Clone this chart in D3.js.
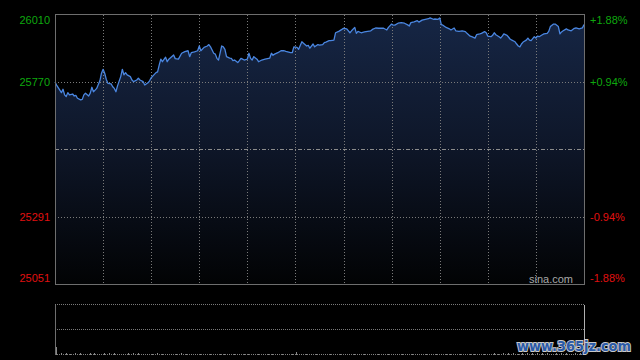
<!DOCTYPE html>
<html>
<head>
<meta charset="utf-8">
<script src="https://cdn.jsdelivr.net/npm/d3@7"></script>
<style>
  html, body { margin: 0; padding: 0; background: #000; }
  svg { display: block; }
</style>
</head>
<body>
<div id="chart"></div>
<script>
// minutes since open (HK session, 330 min) and index level
const minutes = [0,1,3,4,5,6,7,8,9,11,12,13,14,16,17,18,19,21,22,23,24,25,26,28,29,30,31,32,33,35,36,37,38,39,41,42,43,44,45,47,48,49,51,52,53,55,56,58,59,60,62,63,64,65,66,67,69,70,71,74,75,77,79,81,83,84,85,87,89,90,91,93,95,96,97,99,100,101,102,104,105,106,107,109,110,111,112,114,115,116,117,118,120,121,122,123,124,126,127,129,131,134,135,136,137,139,141,143,144,147,148,149,151,152,154,155,157,158,159,161,162,164,165,167,168,169,171,172,174,175,177,179,180,182,184,185,187,188,189,191,193,194,197,198,200,202,205,207,208,210,211,212,214,216,218,220,221,222,224,226,227,229,231,233,234,236,237,239,240,241,242,244,246,247,249,250,252,254,256,257,259,260,262,263,265,266,268,269,270,272,273,274,275,277,278,279,280,282,283,284,285,287,288,289,290,291,292,294,295,296,297,299,300,301,302,304,305,307,308,309,311,312,314,315,316,317,319,320,322,324,325,327,329,330];
const prices = [25770,25759,25741,25732,25744,25724,25718,25732,25724,25727,25720,25722,25712,25706,25708,25724,25730,25720,25730,25751,25735,25741,25747,25774,25801,25815,25801,25779,25765,25763,25753,25747,25735,25756,25789,25815,25795,25803,25795,25789,25777,25771,25777,25783,25777,25771,25759,25767,25774,25785,25797,25803,25806,25830,25851,25842,25858,25842,25851,25866,25853,25851,25872,25878,25881,25860,25874,25877,25881,25898,25881,25893,25898,25903,25895,25872,25869,25854,25848,25898,25895,25886,25860,25855,25854,25846,25848,25839,25846,25854,25851,25848,25851,25872,25854,25848,25860,25851,25842,25848,25851,25855,25872,25865,25869,25874,25881,25881,25879,25874,25874,25895,25893,25886,25913,25908,25898,25900,25890,25905,25895,25903,25901,25903,25910,25912,25917,25917,25919,25945,25950,25957,25961,25959,25945,25952,25964,25943,25950,25945,25948,25949,25952,25957,25962,25961,25961,25955,25964,25976,25972,25972,25979,25981,25979,25973,25969,25981,25984,25988,25983,25990,25993,25995,25998,25993,25994,25993,25998,25974,25972,25964,25959,25955,25962,25952,25950,25952,25949,25943,25933,25931,25926,25938,25941,25943,25949,25945,25933,25931,25936,25945,25938,25931,25926,25933,25941,25936,25929,25922,25919,25913,25905,25898,25895,25905,25912,25919,25926,25919,25917,25931,25926,25933,25931,25938,25941,25943,25950,25967,25976,25976,25967,25941,25948,25952,25959,25955,25952,25961,25962,25959,25962,25974];

// volume per 3-minute bucket (relative)
const volumes = [8,2,2,1,2,2,1,2,2,1,2,2,2,1,1,2,2,2,1,1,1,2,1,1,1,1,2,1,1,1,1,1,1,1,1,1,1,1,1,1,1,1,1,1,1,1,1,1,1,1,3,1,1,1,1,1,1,1,1,1,1,1,1,1,1,1,1,1,1,1,1,1,1,1,1,1,1,1,1,1,1,1,1,1,1,1,1,1,1,1,1,2,1,2,2,2,1,2,2,2,2,2,2,1,2,2,2,1,2,2,2];

const prevClose = 25530.5;
const priceTicks = [26010, 25770, 25291, 25051];
const timeTicks = [30, 60, 90, 120, 150, 180, 210, 240, 270, 300];

const width = 640, height = 360;
const plotL = 55, plotR = 584, plotT = 14.5, plotB = 284;
const volT = 304.5, volB = 354.5;

const svg = d3.select("#chart").append("svg")
    .attr("width", width)
    .attr("height", height)
    .style("background", "#000");

const x = d3.scaleLinear().domain([0, 330]).range([plotL, plotR]);
const y = d3.scaleLinear().domain([25051, 26010]).range([plotB, plotT]);
const yv = d3.scaleLinear().domain([0, 50]).range([volB, volT]);

const grad = svg.append("defs").append("linearGradient")
    .attr("id", "fill")
    .attr("gradientUnits", "userSpaceOnUse")
    .attr("x1", 0).attr("y1", plotT).attr("x2", 0).attr("y2", plotB);
grad.append("stop").attr("offset", 0).attr("stop-color", "#162645");
grad.append("stop").attr("offset", 0.5).attr("stop-color", "#0e1628");
grad.append("stop").attr("offset", 1).attr("stop-color", "#020304");

const data = minutes.map((m, i) => ({ m: m, p: prices[i] }));

// area under the price line
svg.append("path")
    .datum(data)
    .attr("fill", "url(#fill)")
    .attr("d", d3.area().x(d => x(d.m)).y0(plotB).y1(d => y(d.p)));

// grid
const grid = svg.append("g").attr("shape-rendering", "crispEdges");
grid.selectAll(".vg").data(timeTicks).join("line")
    .attr("x1", d => Math.round(x(d)) + 0.5).attr("x2", d => Math.round(x(d)) + 0.5)
    .attr("y1", plotT).attr("y2", plotB)
    .attr("stroke", "#7a7a7a").attr("stroke-dasharray", "1,2");
grid.selectAll(".hg").data([25770, 25291]).join("line")
    .attr("x1", plotL).attr("x2", plotR)
    .attr("y1", d => Math.round(y(d)) + 0.5).attr("y2", d => Math.round(y(d)) + 0.5)
    .attr("stroke", "#7a7a7a").attr("stroke-dasharray", "1,2");
grid.append("line")
    .attr("x1", plotL).attr("x2", plotR)
    .attr("y1", Math.round(y(prevClose)) + 0.5).attr("y2", Math.round(y(prevClose)) + 0.5)
    .attr("stroke", "#8c8c8c").attr("stroke-dasharray", "4,2,1,2");

// price line
svg.append("path")
    .datum(data)
    .attr("fill", "none")
    .attr("stroke", "#4a86e0")
    .attr("stroke-width", 1.3)
    .attr("stroke-linejoin", "round")
    .attr("d", d3.line().x(d => x(d.m)).y(d => y(d.p)));

// frame
svg.append("rect")
    .attr("x", plotL).attr("y", plotT)
    .attr("width", plotR - plotL).attr("height", plotB - plotT)
    .attr("fill", "none").attr("stroke", "#6e6e6e").attr("shape-rendering", "crispEdges");

// labels
const labelY = v => Math.max(20, Math.min(278.5, y(v)));
const colorOf = v => v > prevClose ? "#0ea80e" : "#e01010";
svg.selectAll(".ll").data(priceTicks).join("text")
    .attr("x", 50).attr("y", labelY)
    .attr("dy", "0.36em")
    .attr("text-anchor", "end")
    .attr("font-family", "Arial, 'Liberation Sans', sans-serif")
    .attr("font-size", 11)
    .attr("fill", colorOf)
    .text(d => d);
svg.selectAll(".rl").data(priceTicks).join("text")
    .attr("x", 590).attr("y", labelY)
    .attr("dy", "0.36em")
    .attr("font-family", "Arial, 'Liberation Sans', sans-serif")
    .attr("font-size", 11)
    .attr("fill", colorOf)
    .text(d => {
        const pct = (d - prevClose) / prevClose * 100;
        return (pct > 0 ? "+" : "") + pct.toFixed(2) + "%";
    });

svg.append("text")
    .attr("x", 573).attr("y", 279).attr("dy", "0.36em")
    .attr("text-anchor", "end")
    .attr("font-family", "Arial, 'Liberation Sans', sans-serif")
    .attr("font-size", 11)
    .attr("fill", "#a8a8a8")
    .text("sina.com");

// volume panel
const vg = svg.append("g").attr("shape-rendering", "crispEdges");
vg.selectAll(".vh").data([50, 25, 0]).join("line")
    .attr("x1", plotL).attr("x2", plotR)
    .attr("y1", d => yv(d)).attr("y2", d => yv(d))
    .attr("stroke", "#7a7a7a").attr("stroke-dasharray", "1,1");
vg.append("line")
    .attr("x1", plotL + 0.5).attr("x2", plotL + 0.5).attr("y1", volT).attr("y2", volB)
    .attr("stroke", "#6e6e6e");
vg.append("line")
    .attr("x1", plotR + 0.5).attr("x2", plotR + 0.5).attr("y1", volT).attr("y2", volB)
    .attr("stroke", "#b0b0b0");
vg.selectAll(".vb").data(volumes).join("rect")
    .attr("x", (d, i) => x(i * 3) + 1)
    .attr("y", d => yv(d))
    .attr("width", 1)
    .attr("height", d => volB - yv(d))
    .attr("fill", "#8a8a8a");

// site watermark
svg.append("text")
    .attr("x", 517).attr("y", 351)
    .attr("font-family", "'DejaVu Sans', sans-serif")
    .attr("font-size", 14)
    .attr("font-weight", "bold")
    .attr("fill", "#2a5aa8")
    .attr("stroke", "#c8c8c8")
    .attr("stroke-width", 2)
    .attr("paint-order", "stroke")
    .attr("textLength", 114)
    .attr("lengthAdjust", "spacingAndGlyphs")
    .text("www.365jz.com");
</script>
</body>
</html>
